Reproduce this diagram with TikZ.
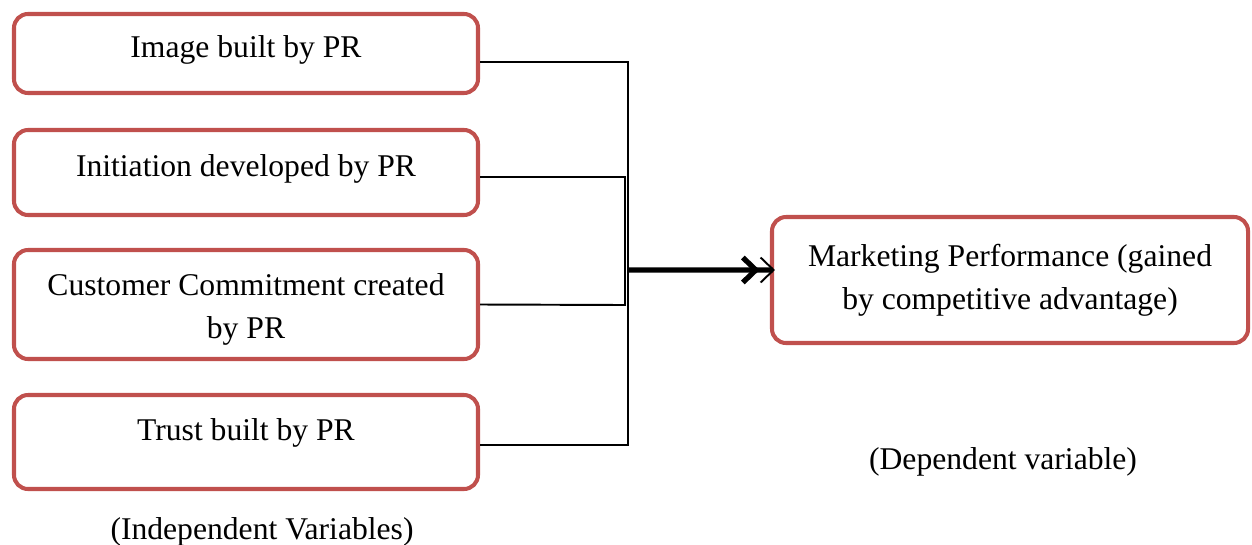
\documentclass[tikz,border=0pt]{standalone}
\usepackage{fontspec}
\setmainfont{Liberation Serif}
\usetikzlibrary{arrows.meta}
\definecolor{prred}{HTML}{C0504D}

\begin{document}
\begin{tikzpicture}[
      var/.style={
        rectangle, rounded corners=2.8mm, draw=prred, line width=2.3pt,
        minimum width=9.28cm, inner sep=0pt, align=center,
        font=\fontsize{18}{24.5}\selectfont
      },
      lift/.style={text depth=#1},
      link/.style={draw=black, line width=1.1pt},
      feed/.style={line width=3pt,
        -{Straight Barb[length=2.6mm,width=5mm]Straight Barb[length=2.6mm,width=5mm,line width=1.1pt]}},
      note/.style={font=\fontsize{18}{24.5}\selectfont}
    ]
    \useasboundingbox (0,0) rectangle (25.04,-10.88);

    % Independent variables on the left.
    \node[var, minimum height=1.58cm, lift=7.9pt]  (b1) at (4.92,-1.07) {Image built by PR};
    \node[var, minimum height=1.70cm, lift=8.0pt]  (b2) at (4.92,-3.45) {Initiation developed by PR};
    \node[var, minimum height=2.18cm, text height=42.5pt] (b3) at (4.92,-6.09) {Customer Commitment created\\by PR};
    \node[var, minimum height=1.88cm, lift=14.2pt] (b4) at (4.92,-8.84) {Trust built by PR};

    % Dependent variable on the right.
    \node[var, minimum width=9.52cm, minimum height=2.52cm] (mp) at (20.2,-5.6)
      {Marketing Performance (gained\\by competitive advantage)};

    \node[note] (iv) at (5.24,-10.63) {(Independent Variables)};
    \node[note] (dv) at (20.06,-9.24) {(Dependent variable)};

    % Joining lines.
    \coordinate (jA) at (12.56,-5.40);
    \coordinate (jB) at (12.50,-6.10);
    \draw[link] ([yshift=-1.7mm]b1.east) -| (jA) |- ([yshift=-0.6mm]b4.east);
    \draw[link] ([yshift=-0.9mm]b2.east) -| (jB) -- (b3.east);
    \draw[feed] (jA) -- ([xshift=1mm,yshift=2mm]mp.west);
  \end{tikzpicture}
\end{document}
